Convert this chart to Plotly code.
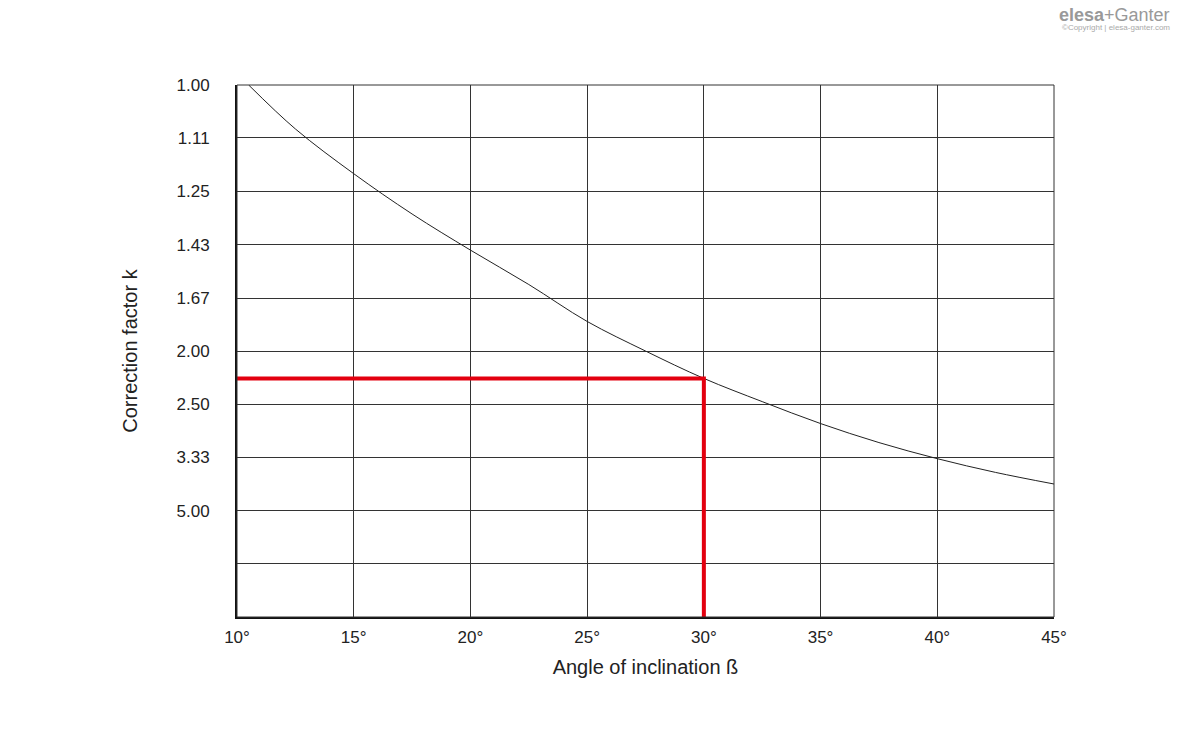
import plotly.graph_objects as go

angles = [10.5, 12.5, 15, 17.5, 20, 22.5, 25, 27.5, 30, 32.5, 35, 37.5, 40, 42.5, 45]
k_values = [1.00, 1.09, 1.20, 1.32, 1.45, 1.60, 1.80, 2.00, 2.23, 2.47, 2.75, 3.05, 3.36, 3.68, 4.00]
y_ticks = [1.00, 1.11, 1.25, 1.43, 1.67, 2.00, 2.50, 3.33, 5.00]
y_labels = ["1.00", "1.11", "1.25", "1.43", "1.67", "2.00", "2.50", "3.33", "5.00"]
x_ticks = [10, 15, 20, 25, 30, 35, 40, 45]
x_labels = [f"{v}°" for v in x_ticks]
sel_angle = 30
sel_k = 2.23

inv = [1 / k for k in k_values]
fig = go.Figure()
fig.add_trace(go.Scatter(x=angles, y=inv, mode="lines", line=dict(color="#222", width=1, shape="spline")))
fig.add_trace(go.Scatter(x=[10, sel_angle, sel_angle], y=[1 / sel_k, 1 / sel_k, 0], mode="lines",
                         line=dict(color="#e3000f", width=4)))
font = dict(family="Liberation Sans, Arial", size=17, color="#222")
fig.update_layout(
    width=1200, height=748, showlegend=False, plot_bgcolor="white", paper_bgcolor="white",
    margin=dict(l=229, r=154, t=77, b=139), font=font,
    xaxis=dict(range=[10, 45], tickvals=x_ticks, ticktext=x_labels, showgrid=True, gridcolor="#333",
               gridwidth=1, zeroline=False, showline=True, linecolor="#111", linewidth=2,
               title=dict(text="Angle of inclination ß", standoff=14), ticks="", ticklabelstandoff=4),
    yaxis=dict(range=[0, 1.0], tickvals=[1 / v for v in y_ticks] + [0.1], ticktext=y_labels + [""],
               showgrid=True, gridcolor="#333", gridwidth=1, zeroline=False, showline=True,
               linecolor="#111", linewidth=2, title=dict(text="Correction factor k", standoff=34),
               ticks="", ticklabelstandoff=22),
)
fig.add_shape(type="rect", xref="x domain", yref="y domain", x0=0, x1=1, y0=0, y1=1,
              line=dict(color="#333", width=1))
fig.add_annotation(x=1.145, y=1.155, xref="paper", yref="paper", text="<b>elesa</b>+Ganter", showarrow=False,
                   font=dict(size=18, color="#999"), xanchor="right")
fig.add_annotation(x=1.145, y=1.12, xref="paper", yref="paper", text="©Copyright | elesa-ganter.com",
                   showarrow=False, font=dict(size=8, color="#aaa"), xanchor="right")
fig.write_html("out.html")
